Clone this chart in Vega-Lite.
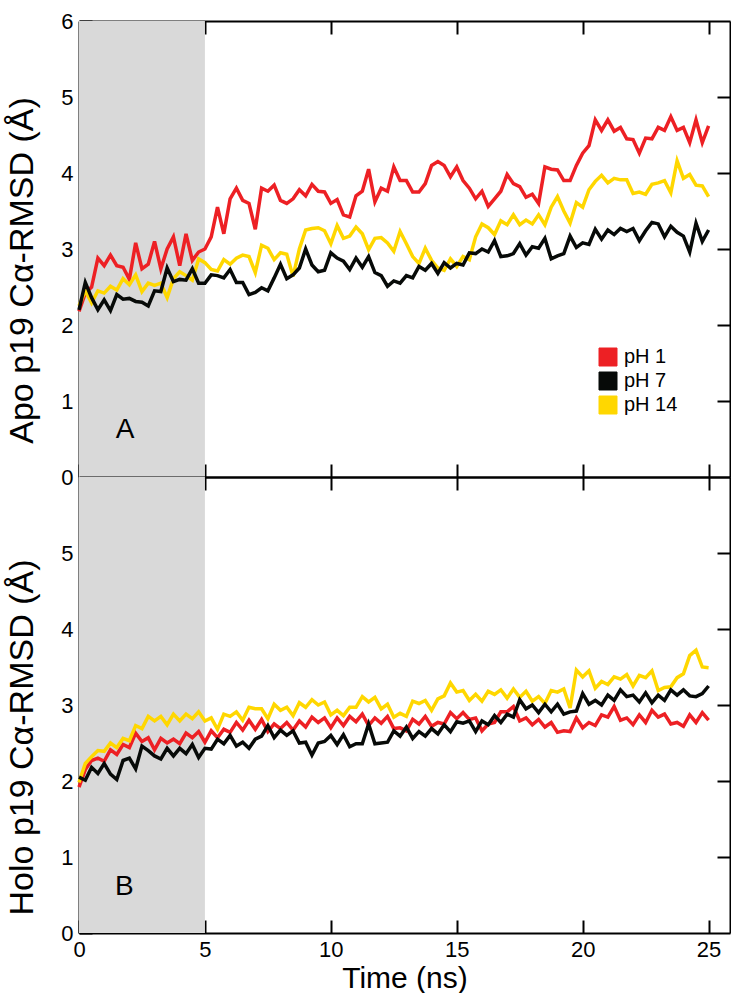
{
"$schema": "https://vega.github.io/schema/vega-lite/v6.json",
"padding": {"left": 5, "top": 10, "right": 0, "bottom": 0},
"spacing": 0,
"bounds": "flush",
"background": "white",
"config": {
  "view": {"stroke": null},
  "axis": {"domainColor": "black", "domainWidth": 2, "tickColor": "black", "tickWidth": 2, "tickSize": -13, "grid": false, "labelFlush": false,
    "labelFont": "Liberation Sans", "labelFontSize": 22, "labelColor": "black", "labelPadding": 19,
    "titleFont": "Liberation Sans", "titleFontSize": 34, "titleFontWeight": "normal", "titleColor": "black"},
  "legend": {"labelFont": "Liberation Sans", "labelFontSize": 20, "labelColor": "black"}
},
"datasets": {
  "shade": [{"start": 0, "end": 5, "lo": 0, "hi": 6}],
  "labA": [{"t": 1.83, "v": 0.62, "label": "A"}],
  "labB": [{"t": 1.8, "v": 0.6, "label": "B"}],
  "apo": [
{"t":0,"pH 1":2.18,"pH 7":2.2,"pH 14":2.25},
{"t":0.25,"pH 1":2.42,"pH 7":2.56,"pH 14":2.45},
{"t":0.5,"pH 1":2.5,"pH 7":2.36,"pH 14":2.29},
{"t":0.75,"pH 1":2.88,"pH 7":2.2,"pH 14":2.45},
{"t":1,"pH 1":2.78,"pH 7":2.33,"pH 14":2.42},
{"t":1.25,"pH 1":2.92,"pH 7":2.19,"pH 14":2.51},
{"t":1.5,"pH 1":2.78,"pH 7":2.4,"pH 14":2.46},
{"t":1.75,"pH 1":2.76,"pH 7":2.34,"pH 14":2.61},
{"t":2,"pH 1":2.6,"pH 7":2.35,"pH 14":2.53},
{"t":2.25,"pH 1":3.08,"pH 7":2.31,"pH 14":2.66},
{"t":2.5,"pH 1":2.74,"pH 7":2.3,"pH 14":2.44},
{"t":2.75,"pH 1":2.8,"pH 7":2.25,"pH 14":2.55},
{"t":3,"pH 1":3.1,"pH 7":2.45,"pH 14":2.52},
{"t":3.25,"pH 1":2.74,"pH 7":2.44,"pH 14":2.55},
{"t":3.5,"pH 1":3.0,"pH 7":2.75,"pH 14":2.36},
{"t":3.75,"pH 1":3.16,"pH 7":2.57,"pH 14":2.61},
{"t":4,"pH 1":2.78,"pH 7":2.6,"pH 14":2.7},
{"t":4.25,"pH 1":3.2,"pH 7":2.59,"pH 14":2.65},
{"t":4.5,"pH 1":2.85,"pH 7":2.74,"pH 14":2.59},
{"t":4.75,"pH 1":2.96,"pH 7":2.55,"pH 14":2.87},
{"t":5,"pH 1":3.0,"pH 7":2.55,"pH 14":2.82},
{"t":5.25,"pH 1":3.16,"pH 7":2.66,"pH 14":2.73},
{"t":5.5,"pH 1":3.55,"pH 7":2.65,"pH 14":2.71},
{"t":5.75,"pH 1":3.2,"pH 7":2.62,"pH 14":2.86},
{"t":6,"pH 1":3.66,"pH 7":2.73,"pH 14":2.8},
{"t":6.25,"pH 1":3.8,"pH 7":2.56,"pH 14":2.88},
{"t":6.5,"pH 1":3.64,"pH 7":2.56,"pH 14":2.92},
{"t":6.75,"pH 1":3.6,"pH 7":2.4,"pH 14":2.9},
{"t":7,"pH 1":3.26,"pH 7":2.43,"pH 14":2.69},
{"t":7.25,"pH 1":3.8,"pH 7":2.49,"pH 14":3.05},
{"t":7.5,"pH 1":3.76,"pH 7":2.45,"pH 14":3.01},
{"t":7.75,"pH 1":3.84,"pH 7":2.62,"pH 14":2.86},
{"t":8,"pH 1":3.64,"pH 7":2.8,"pH 14":2.95},
{"t":8.25,"pH 1":3.6,"pH 7":2.61,"pH 14":2.93},
{"t":8.5,"pH 1":3.66,"pH 7":2.66,"pH 14":2.64},
{"t":8.75,"pH 1":3.78,"pH 7":2.75,"pH 14":3.0},
{"t":9,"pH 1":3.7,"pH 7":3.0,"pH 14":3.25},
{"t":9.25,"pH 1":3.85,"pH 7":2.79,"pH 14":3.27},
{"t":9.5,"pH 1":3.76,"pH 7":2.7,"pH 14":3.28},
{"t":9.75,"pH 1":3.75,"pH 7":2.72,"pH 14":3.24},
{"t":10,"pH 1":3.6,"pH 7":2.95,"pH 14":3.07},
{"t":10.25,"pH 1":3.65,"pH 7":2.88,"pH 14":3.31},
{"t":10.5,"pH 1":3.45,"pH 7":2.84,"pH 14":3.14},
{"t":10.75,"pH 1":3.42,"pH 7":2.73,"pH 14":3.17},
{"t":11,"pH 1":3.7,"pH 7":2.88,"pH 14":3.29},
{"t":11.25,"pH 1":3.76,"pH 7":2.76,"pH 14":3.2},
{"t":11.5,"pH 1":4.05,"pH 7":2.9,"pH 14":2.99},
{"t":11.75,"pH 1":3.62,"pH 7":2.69,"pH 14":3.14},
{"t":12,"pH 1":3.8,"pH 7":2.65,"pH 14":3.15},
{"t":12.25,"pH 1":3.76,"pH 7":2.51,"pH 14":3.08},
{"t":12.5,"pH 1":4.08,"pH 7":2.58,"pH 14":2.97},
{"t":12.75,"pH 1":3.9,"pH 7":2.55,"pH 14":3.23},
{"t":13,"pH 1":3.9,"pH 7":2.65,"pH 14":3.07},
{"t":13.25,"pH 1":3.75,"pH 7":2.62,"pH 14":2.9},
{"t":13.5,"pH 1":3.75,"pH 7":2.77,"pH 14":2.81},
{"t":13.75,"pH 1":3.86,"pH 7":2.72,"pH 14":3.01},
{"t":14,"pH 1":4.1,"pH 7":2.81,"pH 14":2.85},
{"t":14.25,"pH 1":4.15,"pH 7":2.68,"pH 14":2.75},
{"t":14.5,"pH 1":4.1,"pH 7":2.82,"pH 14":2.72},
{"t":14.75,"pH 1":3.95,"pH 7":2.75,"pH 14":2.87},
{"t":15,"pH 1":4.08,"pH 7":2.81,"pH 14":2.77},
{"t":15.25,"pH 1":3.9,"pH 7":2.79,"pH 14":2.9},
{"t":15.5,"pH 1":3.8,"pH 7":2.95,"pH 14":2.86},
{"t":15.75,"pH 1":3.66,"pH 7":2.94,"pH 14":3.16},
{"t":16,"pH 1":3.76,"pH 7":3.0,"pH 14":3.33},
{"t":16.25,"pH 1":3.56,"pH 7":2.96,"pH 14":3.28},
{"t":16.5,"pH 1":3.66,"pH 7":3.11,"pH 14":3.19},
{"t":16.75,"pH 1":3.76,"pH 7":2.9,"pH 14":3.37},
{"t":17,"pH 1":3.98,"pH 7":2.91,"pH 14":3.32},
{"t":17.25,"pH 1":3.86,"pH 7":2.94,"pH 14":3.45},
{"t":17.5,"pH 1":3.82,"pH 7":3.07,"pH 14":3.32},
{"t":17.75,"pH 1":3.68,"pH 7":2.92,"pH 14":3.38},
{"t":18,"pH 1":3.72,"pH 7":3.03,"pH 14":3.33},
{"t":18.25,"pH 1":3.6,"pH 7":3.01,"pH 14":3.45},
{"t":18.5,"pH 1":4.08,"pH 7":3.14,"pH 14":3.32},
{"t":18.75,"pH 1":4.05,"pH 7":2.87,"pH 14":3.55},
{"t":19,"pH 1":4.04,"pH 7":2.91,"pH 14":3.69},
{"t":19.25,"pH 1":3.9,"pH 7":2.94,"pH 14":3.5},
{"t":19.5,"pH 1":3.9,"pH 7":3.17,"pH 14":3.34},
{"t":19.75,"pH 1":4.1,"pH 7":3.02,"pH 14":3.61},
{"t":20,"pH 1":4.26,"pH 7":3.08,"pH 14":3.55},
{"t":20.25,"pH 1":4.36,"pH 7":3.06,"pH 14":3.78},
{"t":20.5,"pH 1":4.7,"pH 7":3.26,"pH 14":3.89},
{"t":20.75,"pH 1":4.56,"pH 7":3.13,"pH 14":3.97},
{"t":21,"pH 1":4.7,"pH 7":3.25,"pH 14":3.87},
{"t":21.25,"pH 1":4.55,"pH 7":3.19,"pH 14":3.93},
{"t":21.5,"pH 1":4.6,"pH 7":3.27,"pH 14":3.91},
{"t":21.75,"pH 1":4.45,"pH 7":3.23,"pH 14":3.91},
{"t":22,"pH 1":4.44,"pH 7":3.27,"pH 14":3.73},
{"t":22.25,"pH 1":4.26,"pH 7":3.11,"pH 14":3.75},
{"t":22.5,"pH 1":4.46,"pH 7":3.24,"pH 14":3.72},
{"t":22.75,"pH 1":4.45,"pH 7":3.35,"pH 14":3.85},
{"t":23,"pH 1":4.6,"pH 7":3.33,"pH 14":3.87},
{"t":23.25,"pH 1":4.56,"pH 7":3.16,"pH 14":3.9},
{"t":23.5,"pH 1":4.74,"pH 7":3.3,"pH 14":3.74},
{"t":23.75,"pH 1":4.56,"pH 7":3.22,"pH 14":4.16},
{"t":24,"pH 1":4.6,"pH 7":3.17,"pH 14":3.93},
{"t":24.25,"pH 1":4.4,"pH 7":2.96,"pH 14":3.98},
{"t":24.5,"pH 1":4.7,"pH 7":3.34,"pH 14":3.84},
{"t":24.75,"pH 1":4.4,"pH 7":3.1,"pH 14":3.83},
{"t":25,"pH 1":4.62,"pH 7":3.25,"pH 14":3.69}
  ],
  "holo": [
{"t":0,"pH 1":1.92,"pH 7":2.05,"pH 14":1.98},
{"t":0.25,"pH 1":2.15,"pH 7":2.01,"pH 14":2.23},
{"t":0.5,"pH 1":2.27,"pH 7":2.18,"pH 14":2.32},
{"t":0.75,"pH 1":2.3,"pH 7":2.1,"pH 14":2.4},
{"t":1,"pH 1":2.26,"pH 7":2.23,"pH 14":2.39},
{"t":1.25,"pH 1":2.41,"pH 7":2.09,"pH 14":2.5},
{"t":1.5,"pH 1":2.35,"pH 7":2.02,"pH 14":2.44},
{"t":1.75,"pH 1":2.48,"pH 7":2.27,"pH 14":2.56},
{"t":2,"pH 1":2.44,"pH 7":2.3,"pH 14":2.53},
{"t":2.25,"pH 1":2.63,"pH 7":2.16,"pH 14":2.73},
{"t":2.5,"pH 1":2.52,"pH 7":2.46,"pH 14":2.69},
{"t":2.75,"pH 1":2.57,"pH 7":2.4,"pH 14":2.85},
{"t":3,"pH 1":2.41,"pH 7":2.33,"pH 14":2.79},
{"t":3.25,"pH 1":2.56,"pH 7":2.29,"pH 14":2.85},
{"t":3.5,"pH 1":2.5,"pH 7":2.43,"pH 14":2.74},
{"t":3.75,"pH 1":2.55,"pH 7":2.33,"pH 14":2.88},
{"t":4,"pH 1":2.49,"pH 7":2.43,"pH 14":2.79},
{"t":4.25,"pH 1":2.63,"pH 7":2.36,"pH 14":2.88},
{"t":4.5,"pH 1":2.57,"pH 7":2.48,"pH 14":2.82},
{"t":4.75,"pH 1":2.65,"pH 7":2.31,"pH 14":2.91},
{"t":5,"pH 1":2.51,"pH 7":2.43,"pH 14":2.79},
{"t":5.25,"pH 1":2.66,"pH 7":2.42,"pH 14":2.83},
{"t":5.5,"pH 1":2.57,"pH 7":2.55,"pH 14":2.68},
{"t":5.75,"pH 1":2.68,"pH 7":2.49,"pH 14":2.88},
{"t":6,"pH 1":2.64,"pH 7":2.6,"pH 14":2.85},
{"t":6.25,"pH 1":2.77,"pH 7":2.46,"pH 14":2.91},
{"t":6.5,"pH 1":2.67,"pH 7":2.51,"pH 14":2.8},
{"t":6.75,"pH 1":2.8,"pH 7":2.43,"pH 14":2.97},
{"t":7,"pH 1":2.68,"pH 7":2.55,"pH 14":2.95},
{"t":7.25,"pH 1":2.81,"pH 7":2.59,"pH 14":2.95},
{"t":7.5,"pH 1":2.65,"pH 7":2.73,"pH 14":2.82},
{"t":7.75,"pH 1":2.75,"pH 7":2.57,"pH 14":3.01},
{"t":8,"pH 1":2.69,"pH 7":2.67,"pH 14":2.93},
{"t":8.25,"pH 1":2.77,"pH 7":2.6,"pH 14":2.97},
{"t":8.5,"pH 1":2.67,"pH 7":2.66,"pH 14":2.86},
{"t":8.75,"pH 1":2.79,"pH 7":2.5,"pH 14":3.03},
{"t":9,"pH 1":2.71,"pH 7":2.51,"pH 14":2.97},
{"t":9.25,"pH 1":2.84,"pH 7":2.34,"pH 14":3.07},
{"t":9.5,"pH 1":2.77,"pH 7":2.5,"pH 14":3.0},
{"t":9.75,"pH 1":2.83,"pH 7":2.52,"pH 14":3.04},
{"t":10,"pH 1":2.7,"pH 7":2.6,"pH 14":2.87},
{"t":10.25,"pH 1":2.83,"pH 7":2.48,"pH 14":2.93},
{"t":10.5,"pH 1":2.73,"pH 7":2.61,"pH 14":2.86},
{"t":10.75,"pH 1":2.85,"pH 7":2.45,"pH 14":2.97},
{"t":11,"pH 1":2.78,"pH 7":2.49,"pH 14":2.97},
{"t":11.25,"pH 1":2.88,"pH 7":2.49,"pH 14":3.11},
{"t":11.5,"pH 1":2.73,"pH 7":2.75,"pH 14":3.04},
{"t":11.75,"pH 1":2.83,"pH 7":2.49,"pH 14":3.1},
{"t":12,"pH 1":2.76,"pH 7":2.5,"pH 14":2.95},
{"t":12.25,"pH 1":2.85,"pH 7":2.51,"pH 14":3.01},
{"t":12.5,"pH 1":2.69,"pH 7":2.66,"pH 14":2.84},
{"t":12.75,"pH 1":2.7,"pH 7":2.59,"pH 14":2.89},
{"t":13,"pH 1":2.66,"pH 7":2.71,"pH 14":2.85},
{"t":13.25,"pH 1":2.81,"pH 7":2.56,"pH 14":3.05},
{"t":13.5,"pH 1":2.75,"pH 7":2.65,"pH 14":3.02},
{"t":13.75,"pH 1":2.85,"pH 7":2.59,"pH 14":3.06},
{"t":14,"pH 1":2.72,"pH 7":2.69,"pH 14":2.93},
{"t":14.25,"pH 1":2.77,"pH 7":2.62,"pH 14":3.08},
{"t":14.5,"pH 1":2.75,"pH 7":2.74,"pH 14":3.12},
{"t":14.75,"pH 1":2.9,"pH 7":2.65,"pH 14":3.29},
{"t":15,"pH 1":2.82,"pH 7":2.78,"pH 14":3.17},
{"t":15.25,"pH 1":2.9,"pH 7":2.76,"pH 14":3.19},
{"t":15.5,"pH 1":2.81,"pH 7":2.79,"pH 14":3.06},
{"t":15.75,"pH 1":2.83,"pH 7":2.65,"pH 14":3.14},
{"t":16,"pH 1":2.66,"pH 7":2.79,"pH 14":3.05},
{"t":16.25,"pH 1":2.75,"pH 7":2.74,"pH 14":3.18},
{"t":16.5,"pH 1":2.77,"pH 7":2.86,"pH 14":3.14},
{"t":16.75,"pH 1":2.91,"pH 7":2.77,"pH 14":3.2},
{"t":17,"pH 1":2.91,"pH 7":2.88,"pH 14":3.09},
{"t":17.25,"pH 1":2.98,"pH 7":2.84,"pH 14":3.21},
{"t":17.5,"pH 1":2.79,"pH 7":3.07,"pH 14":3.1},
{"t":17.75,"pH 1":2.83,"pH 7":2.95,"pH 14":3.18},
{"t":18,"pH 1":2.74,"pH 7":3.0,"pH 14":3.05},
{"t":18.25,"pH 1":2.81,"pH 7":2.9,"pH 14":3.11},
{"t":18.5,"pH 1":2.71,"pH 7":3.01,"pH 14":3.02},
{"t":18.75,"pH 1":2.77,"pH 7":2.91,"pH 14":3.19},
{"t":19,"pH 1":2.64,"pH 7":3.01,"pH 14":3.17},
{"t":19.25,"pH 1":2.66,"pH 7":2.88,"pH 14":3.21},
{"t":19.5,"pH 1":2.65,"pH 7":2.91,"pH 14":2.96},
{"t":19.75,"pH 1":2.83,"pH 7":2.92,"pH 14":3.46},
{"t":20,"pH 1":2.7,"pH 7":3.15,"pH 14":3.37},
{"t":20.25,"pH 1":2.77,"pH 7":3.01,"pH 14":3.45},
{"t":20.5,"pH 1":2.73,"pH 7":3.06,"pH 14":3.22},
{"t":20.75,"pH 1":2.87,"pH 7":3.0,"pH 14":3.31},
{"t":21,"pH 1":2.84,"pH 7":3.13,"pH 14":3.27},
{"t":21.25,"pH 1":2.98,"pH 7":3.06,"pH 14":3.37},
{"t":21.5,"pH 1":2.8,"pH 7":3.2,"pH 14":3.34},
{"t":21.75,"pH 1":2.83,"pH 7":3.11,"pH 14":3.4},
{"t":22,"pH 1":2.74,"pH 7":3.13,"pH 14":3.25},
{"t":22.25,"pH 1":2.87,"pH 7":3.04,"pH 14":3.39},
{"t":22.5,"pH 1":2.77,"pH 7":3.16,"pH 14":3.36},
{"t":22.75,"pH 1":2.93,"pH 7":3.03,"pH 14":3.45},
{"t":23,"pH 1":2.84,"pH 7":3.13,"pH 14":3.19},
{"t":23.25,"pH 1":2.88,"pH 7":3.06,"pH 14":3.23},
{"t":23.5,"pH 1":2.75,"pH 7":3.2,"pH 14":3.24},
{"t":23.75,"pH 1":2.77,"pH 7":3.13,"pH 14":3.36},
{"t":24,"pH 1":2.72,"pH 7":3.2,"pH 14":3.41},
{"t":24.25,"pH 1":2.87,"pH 7":3.12,"pH 14":3.65},
{"t":24.5,"pH 1":2.77,"pH 7":3.11,"pH 14":3.72},
{"t":24.75,"pH 1":2.9,"pH 7":3.15,"pH 14":3.5},
{"t":25,"pH 1":2.8,"pH 7":3.25,"pH 14":3.49}
  ]
},
"vconcat": [
  {
    "width": 651, "height": 456,
    "layer": [
      {
        "data": {"name": "shade"},
        "mark": {"type": "rect", "color": "#D9D9D9"},
        "encoding": {
          "x": {"field": "start", "type": "quantitative", "scale": {"domain": [0, 25.85], "nice": false, "zero": false},
                "axis": {"orient": "bottom", "values": [0, 5, 10, 15, 20, 25], "labels": false, "title": null}},
          "x2": {"field": "end"},
          "y": {"field": "lo", "type": "quantitative", "scale": {"domain": [0, 6], "nice": false},
                "axis": {"orient": "left", "values": [0, 1, 2, 3, 4, 5, 6], "title": "Apo p19 Cα-RMSD (Å)", "titlePadding": 21, "titleY": 249}},
          "y2": {"field": "hi"}
        }
      },
      {
        "data": {"name": "apo"},
        "transform": [{"fold": ["pH 1", "pH 14", "pH 7"], "as": ["series", "rmsd"]}],
        "mark": {"type": "line", "strokeWidth": 3.5},
        "encoding": {
          "x": {"field": "t", "type": "quantitative", "axis": {"orient": "top", "values": [5, 10, 15, 20, 25], "labels": false, "title": null}},
          "y": {"field": "rmsd", "type": "quantitative", "axis": {"orient": "right", "values": [1, 2, 3, 4, 5], "labels": false, "title": null}},
          "color": {"field": "series", "type": "nominal",
            "scale": {"domain": ["pH 1", "pH 7", "pH 14"], "range": ["#ED2024", "#070A08", "#FFD700"]},
            "legend": {"orient": "none", "legendX": 519, "legendY": 326, "title": null, "symbolType": "square", "symbolSize": 324,
              "rowPadding": 2, "labelOffset": 6, "padding": 0,
              "encode": {"symbols": {"update": {"fill": {"scale": "color", "field": "value"}, "stroke": {"value": "#555555"}, "strokeWidth": {"value": 1}, "opacity": {"value": 1}}}}}
          }
        }
      },
      {
        "data": {"name": "labA"},
        "mark": {"type": "text", "font": "Liberation Sans", "fontSize": 28, "color": "black"},
        "encoding": {
          "x": {"field": "t", "type": "quantitative", "axis": null},
          "y": {"field": "v", "type": "quantitative", "axis": null},
          "text": {"field": "label"}
        }
      }
    ],
    "resolve": {"axis": {"x": "independent", "y": "independent"}}
  },
  {
    "width": 651, "height": 456,
    "layer": [
      {
        "data": {"name": "shade"},
        "mark": {"type": "rect", "color": "#D9D9D9"},
        "encoding": {
          "x": {"field": "start", "type": "quantitative", "scale": {"domain": [0, 25.85], "nice": false, "zero": false},
                "axis": {"orient": "bottom", "values": [0, 5, 10, 15, 20, 25], "title": "Time (ns)", "titleFontSize": 30, "labelPadding": 19, "titlePadding": 3}},
          "x2": {"field": "end"},
          "y": {"field": "lo", "type": "quantitative", "scale": {"domain": [0, 6], "nice": false},
                "axis": {"orient": "left", "values": [0, 1, 2, 3, 4, 5], "title": "Holo p19 Cα-RMSD (Å)", "titlePadding": 21, "titleY": 260}},
          "y2": {"field": "hi"}
        }
      },
      {
        "data": {"name": "holo"},
        "transform": [{"fold": ["pH 1", "pH 14", "pH 7"], "as": ["series", "rmsd"]}],
        "mark": {"type": "line", "strokeWidth": 3.5},
        "encoding": {
          "x": {"field": "t", "type": "quantitative", "axis": {"orient": "top", "values": [5, 10, 15, 20, 25], "labels": false, "title": null}},
          "y": {"field": "rmsd", "type": "quantitative", "axis": {"orient": "right", "values": [1, 2, 3, 4, 5], "labels": false, "title": null}},
          "color": {"field": "series", "type": "nominal",
            "scale": {"domain": ["pH 1", "pH 7", "pH 14"], "range": ["#ED2024", "#070A08", "#FFD700"]}}
        }
      },
      {
        "data": {"name": "labB"},
        "mark": {"type": "text", "font": "Liberation Sans", "fontSize": 28, "color": "black"},
        "encoding": {
          "x": {"field": "t", "type": "quantitative", "axis": null},
          "y": {"field": "v", "type": "quantitative", "axis": null},
          "text": {"field": "label"}
        }
      }
    ],
    "resolve": {"axis": {"x": "independent", "y": "independent"}}
  }
]
}
